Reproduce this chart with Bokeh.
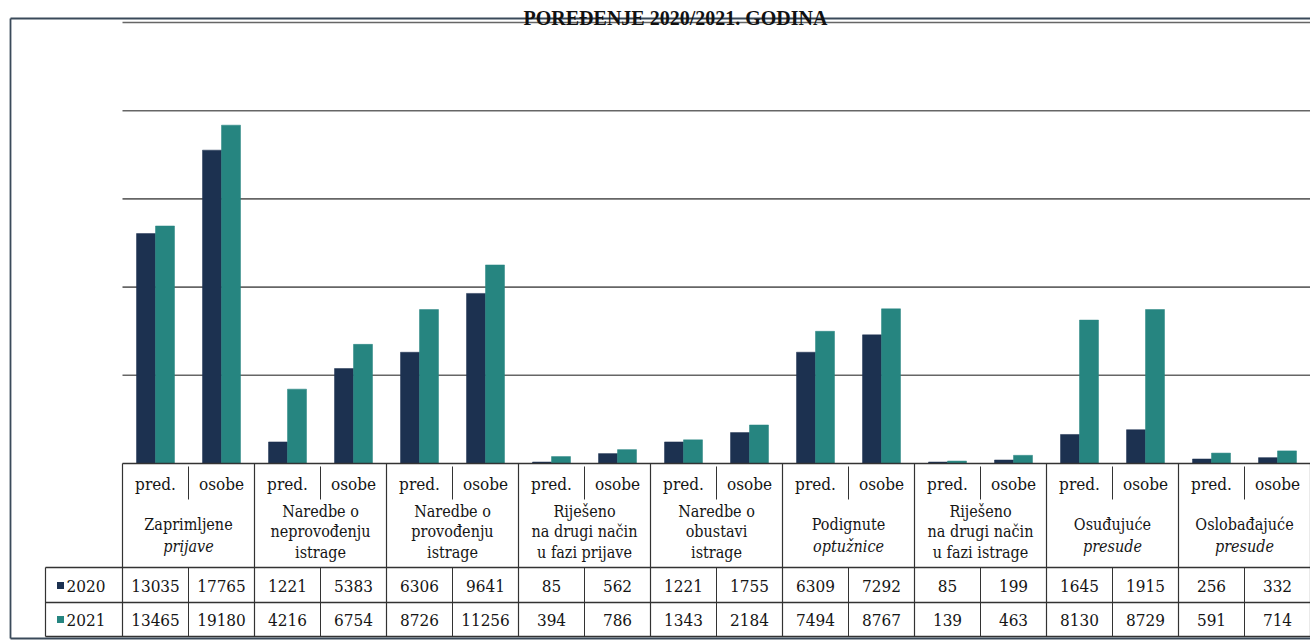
import numpy as np
from bokeh.plotting import figure
from bokeh.models import Range1d, ColumnDataSource
from bokeh.core.properties import value
from bokeh.embed import file_html
from bokeh.resources import INLINE

# ---------------- data ----------------
TITLE = "POREĐENJE 2020/2021. GODINA"
SUBCATS = ["pred.", "osobe"]
GROUP_LINES = [
    ["Zaprimljene", "prijave"],
    ["Naredbe o", "neprovođenju", "istrage"],
    ["Naredbe o", "provođenju", "istrage"],
    ["Riješeno", "na drugi način", "u fazi prijave"],
    ["Naredbe o", "obustavi", "istrage"],
    ["Podignute", "optužnice"],
    ["Riješeno", "na drugi način", "u fazi istrage"],
    ["Osuđujuće", "presude"],
    ["Oslobađajuće", "presude"],
]
SERIES = ["2020", "2021"]
V2020 = [13035, 17765, 1221, 5383, 6306, 9641, 85, 562, 1221, 1755,
         6309, 7292, 85, 199, 1645, 1915, 256, 332]
V2021 = [13465, 19180, 4216, 6754, 8726, 11256, 394, 786, 1343, 2184,
         7494, 8767, 139, 463, 8130, 8729, 591, 714]
GRID_TICKS = [5000, 10000, 15000, 20000, 25000]

# ---------------- layout ----------------
W, H = 1310, 643
SX0, SY0 = 0, 0
CAT_W = 66.0
X_LEFT = 122
Y_BASE = 463
PX_PER_VAL = 441.0 / 25000.0

NAVY = "#1c3150"
TEAL = "#268580"
F_COND = value("DejaVu Serif Condensed")
F_BOLD = value("Liberation Serif")
TXT = "#151515"

ncat = len(V2020)
x_range = Range1d((SX0 - X_LEFT) / CAT_W, (SX0 + W - X_LEFT) / CAT_W)
y_range = Range1d(-(SY0 + H - Y_BASE) / PX_PER_VAL, (Y_BASE - SY0) / PX_PER_VAL)

p = figure(width=W, height=H, x_range=x_range, y_range=y_range,
           output_backend="svg", toolbar_location=None,
           min_border=0, min_border_left=0, min_border_right=0,
           min_border_top=0, min_border_bottom=0)
p.xaxis.visible = False
p.yaxis.visible = False
p.grid.visible = False
p.outline_line_color = None
p.background_fill_color = "white"
p.border_fill_color = "white"
p.extra_x_ranges = {"px": Range1d(SX0, SX0 + W)}
p.extra_y_ranges = {"px": Range1d(SY0 + H, SY0)}

p.segment(x0=[0] * len(GRID_TICKS), x1=[ncat] * len(GRID_TICKS),
          y0=GRID_TICKS, y1=GRID_TICKS, line_color="#666666", line_width=1.6)

centers = np.arange(ncat) + 0.5
bw = 19.0 / CAT_W
src = ColumnDataSource(dict(x0=centers - bw / 2, x1=centers + bw / 2,
                            v2020=V2020, v2021=V2021))
p.vbar(x="x0", top="v2020", width=bw, bottom=0, source=src,
       fill_color=NAVY, line_color=NAVY, line_width=0.5)
p.vbar(x="x1", top="v2021", width=bw, bottom=0, source=src,
       fill_color=TEAL, line_color=TEAL, line_width=0.5)

LC = "#333333"
ngroups = len(GROUP_LINES)
T_TOP, T_HEAD, T_ROW1, T_ROW2, T_BOT = Y_BASE, 499, 567, 602, 636
LEG_X = 45
lx0 = (LEG_X - X_LEFT) / CAT_W

p.segment(x0=[0], x1=[ncat], y0=[T_TOP], y1=[T_TOP], y_range_name="px",
          line_color=LC, line_width=1.3)
p.segment(x0=[lx0] * 3, x1=[ncat] * 3,
          y0=[T_ROW1, T_ROW2, T_BOT], y1=[T_ROW1, T_ROW2, T_BOT],
          y_range_name="px", line_color=LC, line_width=1.3)
gx = [2 * g for g in range(ngroups + 1)]
p.segment(x0=gx, x1=gx, y0=[T_TOP] * len(gx), y1=[T_BOT] * len(gx),
          y_range_name="px", line_color=LC, line_width=1.2)
mx = [2 * g + 1 for g in range(ngroups)]
p.segment(x0=mx, x1=mx, y0=[T_TOP + 3] * len(mx), y1=[T_HEAD] * len(mx),
          y_range_name="px", line_color=LC, line_width=1.0)
p.segment(x0=mx, x1=mx, y0=[T_ROW1] * len(mx), y1=[T_BOT] * len(mx),
          y_range_name="px", line_color=LC, line_width=1.0)
p.segment(x0=[lx0], x1=[lx0], y0=[T_ROW1], y1=[T_BOT], y_range_name="px",
          line_color=LC, line_width=1.2)

# header
p.text(x=list(centers), y=[483] * ncat, text=[SUBCATS[i % 2] for i in range(ncat)],
       y_range_name="px", text_font=F_COND, text_font_size="17px",
       text_align="center", text_baseline="middle", text_color=TXT)

# group labels (normal and italic lines as separate glyphs)
nx, ny, nt, ix, iy, it = [], [], [], [], [], []
for g, lines in enumerate(GROUP_LINES):
    ys = [524, 546] if len(lines) == 2 else [511, 531, 552]
    for k, (t, yy) in enumerate(zip(lines, ys)):
        if len(lines) == 2 and k == 1:
            ix.append(2 * g + 1.0); iy.append(yy); it.append(t)
        else:
            nx.append(2 * g + 1.0); ny.append(yy); nt.append(t)
p.text(x=nx, y=ny, text=nt, y_range_name="px", text_font=F_COND,
       text_font_size="16px", text_align="center", text_baseline="middle",
       text_color=TXT)
p.text(x=ix, y=iy, text=it, y_range_name="px", text_font=F_COND,
       text_font_size="16px", text_font_style="italic", text_align="center",
       text_baseline="middle", text_color=TXT)

# values
p.text(x=list(centers), y=[585] * ncat, text=[str(v) for v in V2020],
       y_range_name="px", text_font=F_COND, text_font_size="17px",
       text_align="center", text_baseline="middle", text_color=TXT)
p.text(x=list(centers), y=[619] * ncat, text=[str(v) for v in V2021],
       y_range_name="px", text_font=F_COND, text_font_size="17px",
       text_align="center", text_baseline="middle", text_color=TXT)

# legend keys
p.rect(x=[60, 60], y=[585, 619], width=7, height=7, x_range_name="px",
       y_range_name="px", fill_color=[NAVY, TEAL], line_color=None)
p.text(x=[66, 66], y=[585, 619], text=SERIES, x_range_name="px", y_range_name="px",
       text_font=F_COND, text_font_size="17px", text_align="left",
       text_baseline="middle", text_color=TXT)

# outer frame
p.segment(x0=[10, 10, 10], x1=[1310, 10, 1310], y0=[18, 18, 638], y1=[18, 638, 638],
          x_range_name="px", y_range_name="px", line_color="#3a4a5a", line_width=1.8)

# title
p.text(x=[675], y=[17], text=[TITLE], x_range_name="px", y_range_name="px",
       text_font=F_BOLD, text_font_size="20px", text_font_style="bold",
       text_align="center", text_baseline="alphabetic", text_color="#111111")

open("out.html", "w").write(file_html(p, INLINE))
